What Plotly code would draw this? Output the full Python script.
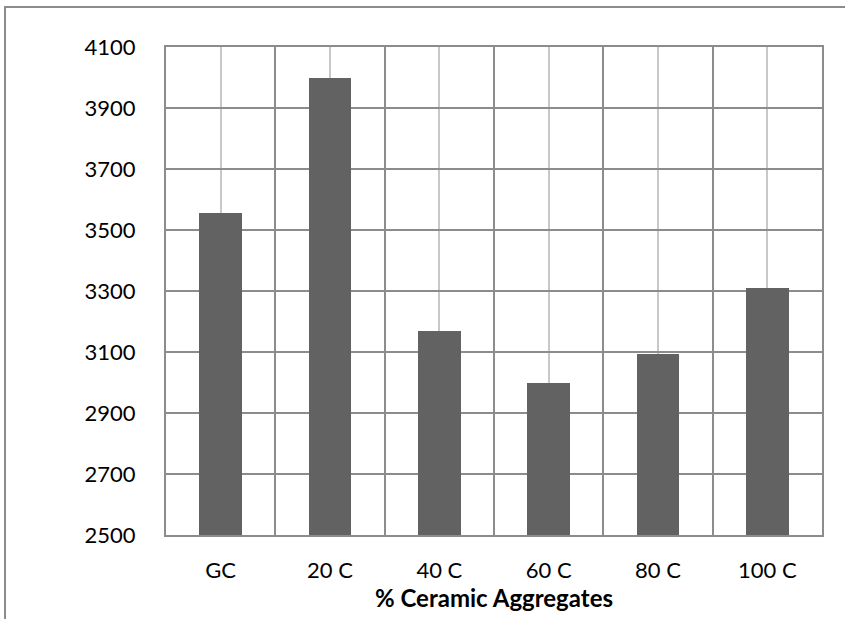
import plotly.graph_objects as go

categories = ["GC", "20 C", "40 C", "60 C", "80 C", "100 C"]
values = [3555, 4000, 3168, 3000, 3092, 3310]
y_ticks = [2500, 2700, 2900, 3100, 3300, 3500, 3700, 3900, 4100]
x_title = "% Ceramic Aggregates"

positions = list(range(len(categories)))
boundaries = [p - 0.5 for p in positions] + [positions[-1] + 0.5]
y_min = y_ticks[0]

DARK = "#8c8c8c"
LIGHT = "#c8c8c8"
FONT = "Lato"

fig = go.Figure(
    go.Bar(
        x=positions,
        y=[v - y_min for v in values],
        base=y_min,
        width=0.39,
        marker=dict(color="#626262", line=dict(width=0)),
        hovertext=[str(v) for v in values],
    )
)

fig.update_layout(
    width=845,
    height=619,
    margin=dict(l=166, r=23, t=47, b=84),
    plot_bgcolor="white",
    paper_bgcolor="white",
    showlegend=False,
    font=dict(family=FONT, size=22, color="#000000"),
    bargap=0,
    shapes=[
        dict(
            type="rect", xref="paper", yref="paper",
            x0=-0.2454, x1=1.2, y0=-0.3, y1=1.082,
            line=dict(color=DARK, width=2), fillcolor="rgba(0,0,0,0)",
            layer="below",
        )
    ],
)

fig.update_xaxes(
    range=[-0.5, len(categories) - 0.5],
    tickmode="array",
    tickvals=positions,
    ticktext=categories,
    showgrid=True,
    gridcolor=LIGHT,
    gridwidth=2,
    minor=dict(tickmode="array", tickvals=boundaries, showgrid=True,
               gridcolor=DARK, gridwidth=2, ticks=""),
    showline=True,
    linecolor=DARK,
    linewidth=2,
    mirror=True,
    ticks="",
    zeroline=False,
    ticklabelstandoff=15,
    tickfont=dict(family=FONT, size=22),
    title=dict(text="<b>" + x_title + "</b>", font=dict(family=FONT, size=24), standoff=5),
)

fig.update_yaxes(
    range=[y_ticks[0], y_ticks[-1]],
    tickmode="array",
    tickvals=y_ticks,
    ticktext=[str(t) for t in y_ticks],
    showgrid=True,
    gridcolor=DARK,
    gridwidth=2,
    showline=True,
    linecolor=DARK,
    linewidth=2,
    mirror=True,
    ticks="",
    zeroline=False,
    ticklabelstandoff=24,
    tickfont=dict(family=FONT, size=22),
)

fig.write_html(
    "out.html",
    config={"displayModeBar": False},
    post_script="document.body.style.margin='0';document.body.style.overflow='hidden';",
)
